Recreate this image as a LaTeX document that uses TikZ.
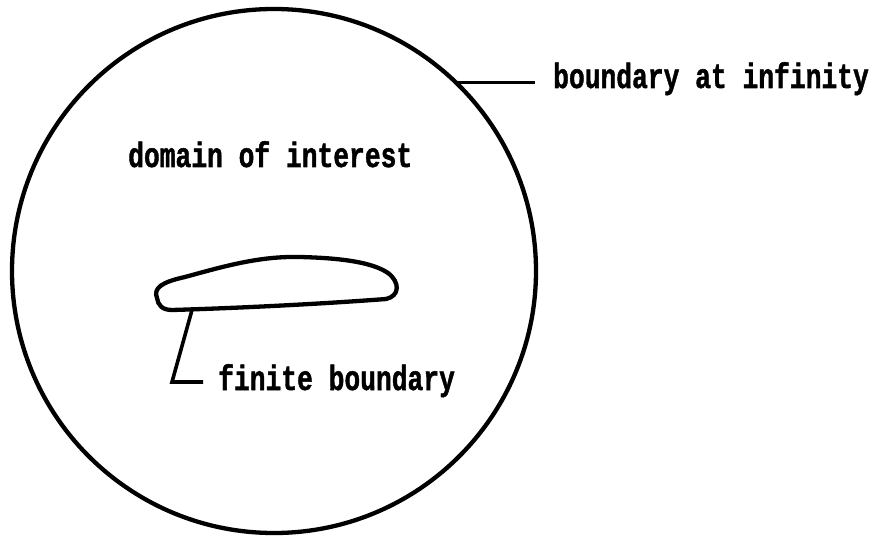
\documentclass[tikz,border=0pt]{standalone}
\usepackage{fontspec}
\usepackage{graphicx}
\usepackage{tikz}
\usetikzlibrary{calc,positioning}
\newfontfamily\printfont{Liberation Mono}[BoldFeatures={FakeBold=1.5}]
\newcommand{\tall}[1]{\scalebox{1}[1.33]{#1}}

\begin{document}
\begin{tikzpicture}[x=1pt,y=-1pt,
  tag/.style={font=\printfont\bfseries\fontsize{26.3}{30}\selectfont,inner sep=0pt,anchor=base west},
  rim/.style={line width=4.3pt},
  lead/.style={line width=3.6pt}]
\useasboundingbox (0,0) rectangle (878,540);
% outer boundary and the body inside it
\node[draw,rim,circle,minimum size=524pt,inner sep=0pt,outer sep=0pt] (farfield) at (274,271) {};
\draw[rim,line join=round] (157,298) .. controls (153,288) and (162,282) .. (185,277)
  .. controls (225,266) and (260,256) .. (300,257)
  .. controls (340,258) and (372,262) .. (388,273)
  .. controls (400,282) and (400,296) .. (386,299)
  .. controls (320,304) and (240,308) .. (172,310)
  .. controls (162,310) and (158,305) .. (157,298) -- cycle;
\coordinate (foot) at (192,310);
\coordinate (bend) at (172,382);
% labels
\node[tag] (domain) at (128,167) {\tall{domain of interest}};
\node[tag] (infty) at (553,88) {\tall{boundary at infinity}};
\node[tag] (finite) at (218,390) {\tall{finite boundary}};
% leaders
\draw[lead,shorten >=18pt] (farfield.46) -- (farfield.46 -| infty.west);
\draw[lead,shorten >=15pt] (foot) -- (bend) -- (bend -| finite.west);
\end{tikzpicture}
\end{document}
